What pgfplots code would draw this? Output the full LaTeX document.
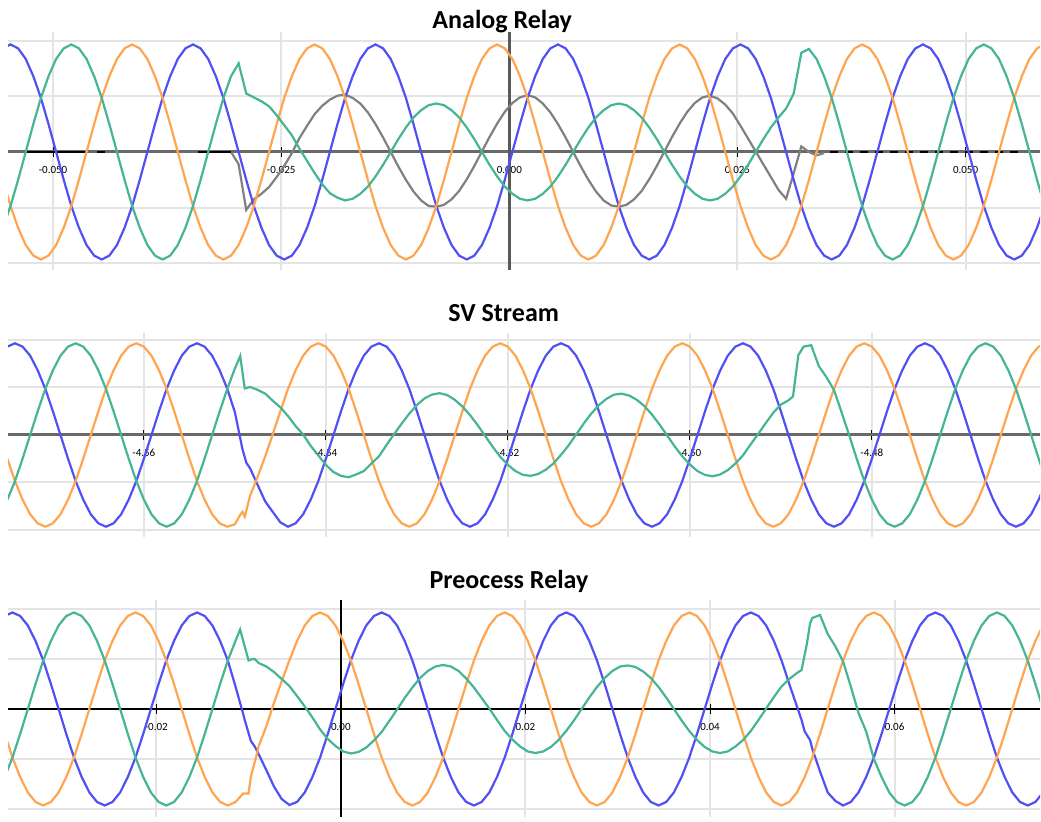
\documentclass[border=0pt]{standalone}
\usepackage{pgfplots}
\pgfplotsset{compat=1.18}
\usepackage{pgfplotstable}
\usepackage{fontspec}
\setmainfont{Carlito}
\definecolor{cblue}{RGB}{80,80,245}
\definecolor{corange}{RGB}{255,165,80}
\definecolor{cgreen}{RGB}{70,180,150}
\definecolor{cgray}{RGB}{128,128,128}
\definecolor{cgrid}{RGB}{228,228,228}
\definecolor{caxis}{RGB}{105,105,105}

% Analog Relay: n = sample index (15 deg steps of 50 Hz), b/o/g = phases, k = residual trace
\pgfplotstableread{
n b o g k
-25 1.86 -0.50 -1.36 nan
-24 1.93 -0.97 -0.97 nan
-23 1.86 -1.36 -0.50 nan
-22 1.67 -1.67 0.00 nan
-21 1.36 -1.86 0.50 nan
-20 0.97 -1.93 0.97 nan
-19 0.50 -1.86 1.36 nan
-18 0.00 -1.67 1.67 nan
-17 -0.50 -1.36 1.86 nan
-16 -0.97 -0.97 1.93 nan
-15 -1.36 -0.50 1.86 nan
-14 -1.67 0.00 1.67 nan
-13 -1.86 0.50 1.36 nan
-12 -1.93 0.97 0.97 nan
-11 -1.86 1.36 0.50 nan
-10 -1.67 1.67 0.00 nan
-9 -1.36 1.86 -0.50 nan
-8 -0.97 1.93 -0.97 nan
-7 -0.50 1.86 -1.36 nan
-6 0.00 1.67 -1.67 nan
-5 0.50 1.36 -1.86 nan
-4 0.97 0.97 -1.93 nan
-3 1.36 0.50 -1.86 nan
-2 1.67 0.00 -1.67 nan
-1 1.86 -0.50 -1.36 nan
0 1.93 -0.97 -0.97 nan
1 1.86 -1.36 -0.50 nan
2 1.67 -1.67 0.00 nan
3 1.36 -1.86 0.50 nan
4 0.97 -1.93 0.97 nan
5 0.50 -1.86 1.36 0.00
6 0.00 -1.67 1.59 -0.22
7 -0.50 -1.36 1.05 -1.04
8 -0.97 -0.97 0.98 -0.85
9 -1.36 -0.50 0.91 -0.75
10 -1.67 0.00 0.82 -0.63
11 -1.86 0.50 0.66 -0.45
12 -1.93 0.97 0.48 -0.25
13 -1.86 1.36 0.30 -0.02
14 -1.67 1.67 0.06 0.25
15 -1.36 1.86 -0.16 0.47
16 -0.97 1.93 -0.38 0.68
17 -0.50 1.86 -0.58 0.83
18 0.00 1.67 -0.74 0.94
19 0.50 1.36 -0.82 1.01
20 0.97 0.97 -0.87 1.03
21 1.36 0.50 -0.84 0.97
22 1.67 0.00 -0.75 0.87
23 1.86 -0.50 -0.62 0.71
24 1.93 -0.97 -0.44 0.50
25 1.86 -1.36 -0.23 0.26
26 1.67 -1.67 0.00 0.00
27 1.36 -1.86 0.23 -0.26
28 0.97 -1.93 0.44 -0.50
29 0.50 -1.86 0.62 -0.71
30 0.00 -1.67 0.75 -0.87
31 -0.50 -1.36 0.84 -0.97
32 -0.97 -0.97 0.87 -0.98
33 -1.36 -0.50 0.84 -0.95
34 -1.67 0.00 0.75 -0.85
35 -1.86 0.50 0.62 -0.70
36 -1.93 0.97 0.44 -0.49
37 -1.86 1.36 0.23 -0.25
38 -1.67 1.67 0.00 0.01
39 -1.36 1.86 -0.23 0.27
40 -0.97 1.93 -0.44 0.51
41 -0.50 1.86 -0.62 0.72
42 0.00 1.67 -0.75 0.88
43 0.50 1.36 -0.84 0.98
44 0.97 0.97 -0.87 1.02
45 1.36 0.50 -0.84 0.98
46 1.67 0.00 -0.75 0.87
47 1.86 -0.50 -0.62 0.71
48 1.93 -0.97 -0.44 0.50
49 1.86 -1.36 -0.23 0.26
50 1.67 -1.67 0.00 0.00
51 1.36 -1.86 0.23 -0.26
52 0.97 -1.93 0.44 -0.50
53 0.50 -1.86 0.62 -0.71
54 0.00 -1.67 0.75 -0.87
55 -0.50 -1.36 0.84 -0.96
56 -0.97 -0.97 0.87 -0.98
57 -1.36 -0.50 0.84 -0.95
58 -1.67 0.00 0.75 -0.85
59 -1.86 0.50 0.62 -0.70
60 -1.93 0.97 0.44 -0.49
61 -1.86 1.36 0.23 -0.25
62 -1.67 1.67 0.00 0.01
63 -1.36 1.86 -0.23 0.27
64 -0.97 1.93 -0.44 0.51
65 -0.50 1.86 -0.62 0.72
66 0.00 1.67 -0.75 0.88
67 0.50 1.36 -0.84 0.98
68 0.97 0.97 -0.87 1.01
69 1.36 0.50 -0.84 0.96
70 1.67 0.00 -0.75 0.85
71 1.86 -0.50 -0.62 0.69
72 1.93 -0.97 -0.44 0.47
73 1.86 -1.36 -0.23 0.24
74 1.67 -1.67 0.00 0.01
75 1.36 -1.86 0.23 -0.22
76 0.97 -1.93 0.44 -0.45
77 0.50 -1.86 0.62 -0.68
78 0.00 -1.67 0.78 -0.84
79 -0.50 -1.36 1.05 -0.38
80 -0.97 -0.97 1.78 0.10
81 -1.36 -0.50 1.85 0.00
82 -1.67 0.00 1.67 -0.06
83 -1.86 0.50 1.36 -0.02
84 -1.93 0.97 0.97 nan
85 -1.86 1.36 0.50 nan
86 -1.67 1.67 0.00 nan
87 -1.36 1.86 -0.50 nan
88 -0.97 1.93 -0.97 nan
89 -0.50 1.86 -1.36 nan
90 0.00 1.67 -1.67 nan
91 0.50 1.36 -1.86 nan
92 0.97 0.97 -1.93 nan
93 1.36 0.50 -1.86 nan
94 1.67 0.00 -1.67 nan
95 1.86 -0.50 -1.36 nan
96 1.93 -0.97 -0.97 nan
97 1.86 -1.36 -0.50 nan
98 1.67 -1.67 0.00 nan
99 1.36 -1.86 0.50 nan
100 0.97 -1.93 0.97 nan
101 0.50 -1.86 1.36 nan
102 0.00 -1.67 1.67 nan
103 -0.50 -1.36 1.86 nan
104 -0.97 -0.97 1.93 nan
105 -1.36 -0.50 1.86 nan
106 -1.67 0.00 1.67 nan
107 -1.86 0.50 1.36 nan
108 -1.93 0.97 0.97 nan
109 -1.86 1.36 0.50 nan
110 -1.67 1.67 0.00 nan
111 -1.36 1.86 -0.50 nan
112 -0.97 1.93 -0.97 nan
}\pone

% SV Stream
\pgfplotstableread{
n b o g
-25 1.86 -0.50 -1.36
-24 1.93 -0.97 -0.97
-23 1.86 -1.36 -0.50
-22 1.67 -1.67 0.00
-21 1.36 -1.86 0.50
-20 0.97 -1.93 0.97
-19 0.50 -1.86 1.36
-18 0.00 -1.67 1.67
-17 -0.50 -1.36 1.86
-16 -0.97 -0.97 1.93
-15 -1.36 -0.50 1.86
-14 -1.67 0.00 1.67
-13 -1.86 0.50 1.36
-12 -1.93 0.97 0.97
-11 -1.86 1.36 0.50
-10 -1.67 1.67 0.00
-9 -1.36 1.86 -0.50
-8 -0.97 1.93 -0.97
-7 -0.50 1.86 -1.36
-6 0.00 1.67 -1.67
-5 0.50 1.36 -1.86
-4 0.97 0.97 -1.93
-3 1.36 0.50 -1.86
-2 1.67 0.00 -1.67
-1 1.86 -0.50 -1.36
0 1.93 -0.97 -0.97
1 1.86 -1.36 -0.50
2 1.67 -1.67 0.00
3 1.36 -1.86 0.50
4 0.97 -1.93 0.97
5 0.48 -1.88 1.40
5.7 nan -1.68 1.66
6 -0.30 -1.62 nan
6.3 nan -1.72 0.98
6.5 -0.58 nan nan
7 -0.70 -1.28 1.01
8 -1.05 -0.88 0.95
9 -1.40 -0.45 0.87
10 -1.62 0.02 0.72
11 -1.84 0.50 0.58
12 -1.93 0.97 0.40
13 -1.86 1.36 0.19
14 -1.67 1.67 0.01
15 -1.36 1.86 -0.23
16 -0.97 1.93 -0.43
17 -0.50 1.86 -0.63
18 0.00 1.67 -0.78
19 0.50 1.36 -0.86
20 0.97 0.97 -0.89
21 1.36 0.50 -0.83
22 1.67 0.00 -0.76
23 1.86 -0.50 -0.60
24 1.93 -0.97 -0.45
25 1.86 -1.36 -0.21
26 1.67 -1.67 0.02
27 1.36 -1.86 0.24
28 0.97 -1.93 0.45
29 0.50 -1.86 0.63
30 0.00 -1.67 0.77
31 -0.50 -1.36 0.85
32 -0.97 -0.97 0.88
33 -1.36 -0.50 0.84
34 -1.67 0.00 0.74
35 -1.86 0.50 0.60
36 -1.93 0.97 0.42
37 -1.86 1.36 0.21
38 -1.67 1.67 -0.02
39 -1.36 1.86 -0.25
40 -0.97 1.93 -0.46
41 -0.50 1.86 -0.63
42 0.00 1.67 -0.76
43 0.50 1.36 -0.84
44 0.97 0.97 -0.86
45 1.36 0.50 -0.82
46 1.67 0.00 -0.73
47 1.86 -0.50 -0.60
48 1.93 -0.97 -0.42
49 1.86 -1.36 -0.22
50 1.67 -1.67 0.01
51 1.36 -1.86 0.24
52 0.97 -1.93 0.45
53 0.50 -1.86 0.63
54 0.00 -1.67 0.76
55 -0.50 -1.36 0.85
56 -0.97 -0.97 0.87
57 -1.36 -0.50 0.83
58 -1.67 0.00 0.74
59 -1.86 0.50 0.61
60 -1.93 0.97 0.43
61 -1.86 1.36 0.22
62 -1.67 1.67 -0.01
63 -1.36 1.86 -0.24
64 -0.97 1.93 -0.45
65 -0.50 1.86 -0.62
66 0.00 1.67 -0.76
67 0.50 1.36 -0.84
68 0.97 0.97 -0.87
69 1.36 0.50 -0.83
70 1.67 0.00 -0.74
71 1.86 -0.50 -0.60
72 1.93 -0.97 -0.43
73 1.86 -1.36 -0.20
74 1.67 -1.67 0.02
75 1.36 -1.86 0.25
76 0.97 -1.93 0.47
77 0.50 -1.86 0.64
78 0.00 -1.67 0.73
78.6 nan nan 0.81
79 -0.50 -1.36 nan
79.3 nan nan 1.68
80 -0.97 -0.97 1.86
81 -1.36 -0.50 1.89
82 -1.67 0.00 1.45
83 -1.86 0.50 1.22
84 -1.93 0.97 0.95
85 -1.86 1.36 0.48
86 -1.67 1.67 0.00
87 -1.36 1.86 -0.50
88 -0.97 1.93 -0.97
89 -0.50 1.86 -1.36
90 0.00 1.67 -1.67
91 0.50 1.36 -1.86
92 0.97 0.97 -1.93
93 1.36 0.50 -1.86
94 1.67 0.00 -1.67
95 1.86 -0.50 -1.36
96 1.93 -0.97 -0.97
97 1.86 -1.36 -0.50
98 1.67 -1.67 0.00
99 1.36 -1.86 0.50
100 0.97 -1.93 0.97
101 0.50 -1.86 1.36
102 0.00 -1.67 1.67
103 -0.50 -1.36 1.86
104 -0.97 -0.97 1.93
105 -1.36 -0.50 1.86
106 -1.67 0.00 1.67
107 -1.86 0.50 1.36
108 -1.93 0.97 0.97
109 -1.86 1.36 0.50
110 -1.67 1.67 0.00
111 -1.36 1.86 -0.50
112 -0.97 1.93 -0.97
}\ptwo

% Preocess Relay
\pgfplotstableread{
n b o g
-25 1.86 -0.50 -1.36
-24 1.93 -0.97 -0.97
-23 1.86 -1.36 -0.50
-22 1.67 -1.67 0.00
-21 1.36 -1.86 0.50
-20 0.97 -1.93 0.97
-19 0.50 -1.86 1.36
-18 0.00 -1.67 1.67
-17 -0.50 -1.36 1.86
-16 -0.97 -0.97 1.93
-15 -1.36 -0.50 1.86
-14 -1.67 0.00 1.67
-13 -1.86 0.50 1.36
-12 -1.93 0.97 0.97
-11 -1.86 1.36 0.50
-10 -1.67 1.67 0.00
-9 -1.36 1.86 -0.50
-8 -0.97 1.93 -0.97
-7 -0.50 1.86 -1.36
-6 0.00 1.67 -1.67
-5 0.50 1.36 -1.86
-4 0.97 0.97 -1.93
-3 1.36 0.50 -1.86
-2 1.67 0.00 -1.67
-1 1.86 -0.50 -1.36
0 1.93 -0.97 -0.97
1 1.86 -1.36 -0.50
2 1.67 -1.67 0.00
3 1.36 -1.86 0.50
4 0.97 -1.93 0.97
5 0.45 -1.86 1.36
5.6 nan nan 1.59
6 -0.10 -1.69 nan
6.2 -0.22 nan nan
6.7 nan -1.69 0.97
7 -0.64 -1.35 0.99
7.5 -0.75 nan 1.00
7.8 nan -0.89 nan
8 -0.90 -0.75 0.92
9 -1.22 -0.35 0.85
10 -1.55 0.12 0.74
11 -1.80 0.55 0.60
12 -1.92 0.97 0.46
13 -1.86 1.36 0.26
14 -1.67 1.67 0.05
15 -1.36 1.86 -0.17
16 -0.97 1.93 -0.41
17 -0.50 1.86 -0.60
18 0.00 1.67 -0.74
19 0.50 1.36 -0.85
20 0.97 0.97 -0.89
21 1.36 0.50 -0.86
22 1.67 0.00 -0.77
23 1.86 -0.50 -0.63
24 1.93 -0.97 -0.46
25 1.86 -1.36 -0.24
26 1.67 -1.67 -0.01
27 1.36 -1.86 0.22
28 0.97 -1.93 0.43
29 0.50 -1.86 0.62
30 0.00 -1.67 0.76
31 -0.50 -1.36 0.85
32 -0.97 -0.97 0.88
33 -1.36 -0.50 0.85
34 -1.67 0.00 0.76
35 -1.86 0.50 0.61
36 -1.93 0.97 0.43
37 -1.86 1.36 0.22
38 -1.67 1.67 0.01
39 -1.36 1.86 -0.22
40 -0.97 1.93 -0.44
41 -0.50 1.86 -0.61
42 0.00 1.67 -0.75
43 0.50 1.36 -0.85
44 0.97 0.97 -0.88
45 1.36 0.50 -0.85
46 1.67 0.00 -0.76
47 1.86 -0.50 -0.62
48 1.93 -0.97 -0.44
49 1.86 -1.36 -0.23
50 1.67 -1.67 0.00
51 1.36 -1.86 0.23
52 0.97 -1.93 0.44
53 0.50 -1.86 0.62
54 0.00 -1.67 0.76
55 -0.50 -1.36 0.85
56 -0.97 -0.97 0.87
57 -1.36 -0.50 0.84
58 -1.67 0.00 0.75
59 -1.86 0.50 0.62
60 -1.93 0.97 0.44
61 -1.86 1.36 0.23
62 -1.67 1.67 0.00
63 -1.36 1.86 -0.23
64 -0.97 1.93 -0.44
65 -0.50 1.86 -0.62
66 0.00 1.67 -0.76
67 0.50 1.36 -0.85
68 0.97 0.97 -0.88
69 1.36 0.50 -0.85
70 1.67 0.00 -0.75
71 1.86 -0.50 -0.62
72 1.93 -0.97 -0.44
73 1.86 -1.36 -0.22
74 1.67 -1.67 0.01
75 1.36 -1.86 0.24
76 0.97 -1.93 0.45
77 0.50 -1.86 0.60
78 0.05 -1.67 0.72
78.6 -0.22 nan 0.78
79 -0.45 -1.36 nan
79.3 nan nan 1.31
79.7 -0.62 nan 1.71
80 -0.80 -0.97 1.82
81 -1.25 -0.50 1.88
82 -1.67 0.00 1.50
83 -1.84 0.50 1.25
84 -1.93 0.97 0.95
85 -1.86 1.36 0.45
86 -1.67 1.67 -0.08
87 -1.36 1.86 -0.45
88 -0.97 1.93 -1.00
89 -0.50 1.86 -1.36
90 0.00 1.67 -1.67
91 0.50 1.36 -1.86
92 0.97 0.97 -1.93
93 1.36 0.50 -1.86
94 1.67 0.00 -1.67
95 1.86 -0.50 -1.36
96 1.93 -0.97 -0.97
97 1.86 -1.36 -0.50
98 1.67 -1.67 0.00
99 1.36 -1.86 0.50
100 0.97 -1.93 0.97
101 0.50 -1.86 1.36
102 0.00 -1.67 1.67
103 -0.50 -1.36 1.86
104 -0.97 -0.97 1.93
105 -1.36 -0.50 1.86
106 -1.67 0.00 1.67
107 -1.86 0.50 1.36
108 -1.93 0.97 0.97
109 -1.86 1.36 0.50
110 -1.67 1.67 0.00
111 -1.36 1.86 -0.50
112 -0.97 1.93 -0.97
}\pthree

\pgfplotsset{
  wave/.style={
    scale only axis, width=516pt, anchor=south west,
    axis x line=middle, axis y line=left,
    x axis line style={-, draw=caxis, line width=1.5pt},
    y axis line style={draw=none},
    ytick={-2,-1,1,2}, yticklabels={},
    ytick style={draw=none},
    xmajorgrids, ymajorgrids,
    grid style={draw=cgrid, line width=1pt},
    xtick align=center, major tick length=5pt,
    xtick style={draw=black, line width=0.5pt},
    xticklabel style={font=\fontsize{5.5}{6}\selectfont, text=black, yshift=-1pt},
    every axis plot/.append style={line width=1.1pt},
  }
}

\begin{document}
\begin{tikzpicture}
\path[use as bounding box] (0,0) rectangle (520.5pt,411pt);

% ---- Analog Relay ----
\begin{axis}[wave, at={(4pt,276pt)}, height=119pt,
  xmin=-24.33, xmax=111.39, ymin=-2.118, ymax=2.154,
  xtick={-18.4,11.6,41.6,71.6,101.6},
  xticklabels={-0.050,-0.025,0.000,0.025,0.050},
  extra x ticks={41.6}, extra x tick labels={},
  extra x tick style={grid style={draw=black!65, line width=1.5pt}, major tick length=0pt}]
\addplot[cgray] table[x=n,y=k]{\pone};
\addplot[black, line width=1.3pt, unbounded coords=jump] coordinates {(-22,0) (-14.2,0) (-13.4,nan) (-12.6,0) (-11.6,0) (-11,nan) (0.7,0) (5,0)};
\addplot[black, line width=1.3pt, dash pattern=on 4pt off 3.5pt] coordinates {(83.8,0) (108.5,0)};
\addplot[cblue] table[x=n,y=b]{\pone};
\addplot[corange] table[x=n,y=o]{\pone};
\addplot[cgreen] table[x=n,y=g]{\pone};
\end{axis}

% ---- SV Stream ----
\begin{axis}[wave, at={(4pt,142.5pt)}, height=102pt,
  xmin=-24.92, xmax=111.17, ymin=-2.147, ymax=2.147,
  xtick={-7,17,41,65,89},
  xticklabels={-4.56,-4.54,-4.52,-4.50,-4.48}]
\addplot[cblue] table[x=n,y=b]{\ptwo};
\addplot[corange] table[x=n,y=o]{\ptwo};
\addplot[cgreen] table[x=n,y=g]{\ptwo};
\end{axis}

% ---- Preocess Relay ----
\begin{axis}[wave, at={(4pt,2.5pt)}, height=108.5pt,
  xmin=-24.58, xmax=109.6, ymin=-2.16, ymax=2.18,
  x axis line style={-, draw=black, line width=1pt},
  xtick={-5.3,18.7,42.7,66.7,90.7},
  xticklabels={-0.02,0.00,0.02,0.04,0.06},
  extra x ticks={18.7}, extra x tick labels={},
  extra x tick style={grid style={draw=black, line width=1pt}, major tick length=0pt}]
\addplot[cblue] table[x=n,y=b]{\pthree};
\addplot[corange] table[x=n,y=o]{\pthree};
\addplot[cgreen] table[x=n,y=g]{\pthree};
\end{axis}

\node[anchor=base, font=\bfseries\fontsize{13}{13}\selectfont] at (251.1pt,396.85pt) {Analog Relay};
\node[anchor=base, font=\bfseries\fontsize{13}{13}\selectfont] at (251.85pt,250.15pt) {SV Stream};
\node[anchor=base, font=\bfseries\fontsize{13}{13}\selectfont] at (254.5pt,116.85pt) {Preocess Relay};
\end{tikzpicture}
\end{document}
